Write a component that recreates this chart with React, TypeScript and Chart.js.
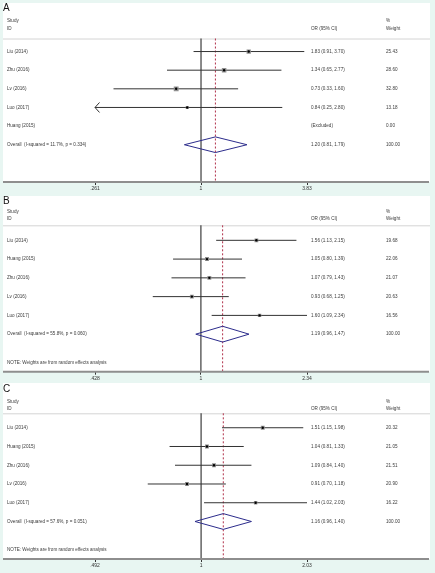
import React, { useEffect, useRef } from 'react';
import { Chart, registerables } from 'chart.js';

Chart.register(...registerables);

// ---- Panel A (fixed effects) ----
const studiesA = ['Liu (2014)', 'Zhu (2016)', 'Lv (2016)', 'Luo (2017)', 'Huang (2015)'];
const orA: (number | null)[] = [1.83, 1.34, 0.73, 0.84, null];
const lowerA: (number | null)[] = [0.91, 0.65, 0.33, 0.25, null];
const upperA: (number | null)[] = [3.7, 2.77, 1.6, 2.8, null];
const weightsA = [25.43, 28.6, 32.8, 13.18, 0];
const overallA = [1.2, 0.81, 1.79];
const hetA = ['11.7%', '0.334'];
const ticksA = [0.261, 1, 3.83];
const tickLabelsA = ['.261', '1', '3.83'];

// ---- Panel B (random effects) ----
const studiesB = ['Liu (2014)', 'Huang (2015)', 'Zhu (2016)', 'Lv (2016)', 'Luo (2017)'];
const orB: (number | null)[] = [1.56, 1.05, 1.07, 0.93, 1.6];
const lowerB: (number | null)[] = [1.13, 0.8, 0.79, 0.68, 1.09];
const upperB: (number | null)[] = [2.15, 1.39, 1.43, 1.25, 2.34];
const weightsB = [19.68, 22.06, 21.07, 20.63, 16.56];
const overallB = [1.19, 0.96, 1.47];
const hetB = ['55.8%', '0.060'];
const ticksB = [0.428, 1, 2.34];
const tickLabelsB = ['.428', '1', '2.34'];

// ---- Panel C (random effects) ----
const studiesC = ['Liu (2014)', 'Huang (2015)', 'Zhu (2016)', 'Lv (2016)', 'Luo (2017)'];
const orC: (number | null)[] = [1.51, 1.04, 1.09, 0.91, 1.44];
const lowerC: (number | null)[] = [1.15, 0.81, 0.84, 0.7, 1.02];
const upperC: (number | null)[] = [1.98, 1.33, 1.4, 1.18, 2.03];
const weightsC = [20.32, 21.05, 21.51, 20.9, 16.22];
const overallC = [1.16, 0.96, 1.4];
const hetC = ['57.6%', '0.051'];
const ticksC = [0.492, 1, 2.03];
const tickLabelsC = ['.492', '1', '2.03'];

const NOTE = 'NOTE: Weights are from random effects analysis';
const FONT = '"Liberation Sans", Arial, Helvetica, sans-serif';
const MINT = '#e8f6f2';
const W = 435;
const TEXT_SIZE = 4.6;

type PanelDef = {
  letter: string;
  studies: string[];
  or: (number | null)[];
  lower: (number | null)[];
  upper: (number | null)[];
  weights: number[];
  overall: number[];
  het: string[];
  ticks: number[];
  tickLabels: string[];
  note: boolean;
  height: number;
  whiteTop: number;
  letterY: number;
  studyY: number;
  idY: number;
  sepY: number;
  axisY: number;
  yMin: number;
};

const panels: PanelDef[] = [
  {
    letter: 'A', studies: studiesA, or: orA, lower: lowerA, upper: upperA, weights: weightsA,
    overall: overallA, het: hetA, ticks: ticksA, tickLabels: tickLabelsA, note: false,
    height: 196, whiteTop: 3, letterY: 8, studyY: 20.5, idY: 29, sepY: 38.5, axisY: 182, yMin: -0.7,
  },
  {
    letter: 'B', studies: studiesB, or: orB, lower: lowerB, upper: upperB, weights: weightsB,
    overall: overallB, het: hetB, ticks: ticksB, tickLabels: tickLabelsB, note: true,
    height: 187, whiteTop: 0, letterY: 5, studyY: 16, idY: 23, sepY: 29.3, axisY: 175.7, yMin: -0.8,
  },
  {
    letter: 'C', studies: studiesC, or: orC, lower: lowerC, upper: upperC, weights: weightsC,
    overall: overallC, het: hetC, ticks: ticksC, tickLabels: tickLabelsC, note: true,
    height: 190, whiteTop: 0, letterY: 6, studyY: 19, idY: 25.3, sepY: 30.3, axisY: 176, yMin: -0.77,
  },
];

const fmtCI = (o: number, l: number, u: number) =>
  `${o.toFixed(2)} (${l.toFixed(2)}, ${u.toFixed(2)})`;

// square side grows with the study weight
const boxRadius = (w: number) => (0.85 * Math.sqrt(w)) / Math.SQRT2;

function ForestPanel({ p }: { p: PanelDef }) {
  const ref = useRef<HTMLCanvasElement>(null);

  useEffect(() => {
    const canvas = ref.current;
    if (!canvas) return;
    const n = p.studies.length;
    const points = p.or
      .map((o, i) => (o == null ? null : { x: o, y: i, w: p.weights[i] }))
      .filter((d): d is { x: number; y: number; w: number } => d != null);

    const forest = {
      id: 'forest',
      beforeDraw(chart: any) {
        const { ctx } = chart;
        ctx.save();
        ctx.fillStyle = MINT;
        ctx.fillRect(0, 0, chart.width, chart.height);
        ctx.fillStyle = '#ffffff';
        ctx.fillRect(3, p.whiteTop, 427, chart.chartArea.bottom - p.whiteTop);
        ctx.restore();
      },
      beforeDatasetsDraw(chart: any) {
        const { ctx, chartArea: a } = chart;
        const x = chart.scales.x;
        const y = chart.scales.y;
        ctx.save();
        // header separator
        ctx.strokeStyle = '#d4d4d4';
        ctx.lineWidth = 1;
        ctx.beginPath();
        ctx.moveTo(3, a.top + 0.5);
        ctx.lineTo(430, a.top + 0.5);
        ctx.stroke();
        // line of no effect
        const x1 = x.getPixelForValue(1);
        ctx.strokeStyle = '#3c3c3c';
        ctx.lineWidth = 1.2;
        ctx.beginPath();
        ctx.moveTo(x1, a.top);
        ctx.lineTo(x1, a.bottom);
        ctx.stroke();
        // pooled estimate
        const xo = x.getPixelForValue(p.overall[0]);
        ctx.strokeStyle = '#b0304a';
        ctx.lineWidth = 1;
        ctx.setLineDash([2, 2]);
        ctx.beginPath();
        ctx.moveTo(xo, a.top);
        ctx.lineTo(xo, a.bottom);
        ctx.stroke();
        ctx.setLineDash([]);
        // confidence intervals
        ctx.strokeStyle = '#333333';
        ctx.lineWidth = 1;
        for (let i = 0; i < n; i++) {
          const lo = p.lower[i];
          const hi = p.upper[i];
          if (lo == null || hi == null) continue;
          const yy = y.getPixelForValue(i);
          const xl = Math.max(x.getPixelForValue(lo), a.left);
          const xr = Math.min(x.getPixelForValue(hi), a.right);
          ctx.beginPath();
          ctx.moveTo(xl, yy);
          ctx.lineTo(xr, yy);
          ctx.stroke();
          if (lo < x.min) {
            ctx.beginPath();
            ctx.moveTo(xl + 4.5, yy - 5);
            ctx.lineTo(xl, yy);
            ctx.lineTo(xl + 4.5, yy + 5);
            ctx.stroke();
          }
          if (hi > x.max) {
            ctx.beginPath();
            ctx.moveTo(xr - 4.5, yy - 5);
            ctx.lineTo(xr, yy);
            ctx.lineTo(xr - 4.5, yy + 5);
            ctx.stroke();
          }
        }
        // pooled diamond
        const yd = y.getPixelForValue(n);
        const h = Math.abs(y.getPixelForValue(n + 0.42) - yd);
        ctx.strokeStyle = '#2c2c8c';
        ctx.lineWidth = 1;
        ctx.beginPath();
        ctx.moveTo(x.getPixelForValue(p.overall[1]), yd);
        ctx.lineTo(xo, yd - h);
        ctx.lineTo(x.getPixelForValue(p.overall[2]), yd);
        ctx.lineTo(xo, yd + h);
        ctx.closePath();
        ctx.stroke();
        // axis line across the plot region
        ctx.strokeStyle = '#8e8e8e';
        ctx.lineWidth = 2;
        ctx.beginPath();
        ctx.moveTo(3, a.bottom);
        ctx.lineTo(429, a.bottom);
        ctx.stroke();
        ctx.restore();
      },
      afterDraw(chart: any) {
        const { ctx } = chart;
        const y = chart.scales.y;
        ctx.save();
        ctx.textBaseline = 'middle';
        ctx.textAlign = 'left';
        ctx.fillStyle = '#111';
        ctx.font = `10px ${FONT}`;
        ctx.fillText(p.letter, 3, p.letterY);
        ctx.fillStyle = '#3a3a3a';
        ctx.font = `${TEXT_SIZE}px ${FONT}`;
        const colName = 7;
        const colCI = 311;
        const colW = 386;
        ctx.fillText('Study', colName, p.studyY);
        ctx.fillText('ID', colName, p.idY);
        ctx.fillText('OR (95% CI)', colCI, p.idY);
        ctx.fillText('%', colW, p.studyY);
        ctx.fillText('Weight', colW, p.idY);
        for (let i = 0; i < n; i++) {
          const yy = y.getPixelForValue(i);
          ctx.fillText(p.studies[i], colName, yy);
          const o = p.or[i];
          const lo = p.lower[i];
          const hi = p.upper[i];
          ctx.fillText(o == null || lo == null || hi == null ? '(Excluded)' : fmtCI(o, lo, hi), colCI, yy);
          ctx.fillText(p.weights[i].toFixed(2), colW, yy);
        }
        const yo = y.getPixelForValue(n);
        ctx.fillText(`Overall  (I-squared = ${p.het[0]}, p = ${p.het[1]})`, colName, yo);
        ctx.fillText(fmtCI(p.overall[0], p.overall[1], p.overall[2]), colCI, yo);
        ctx.fillText('100.00', colW, yo);
        if (p.note) ctx.fillText(NOTE, colName, y.getPixelForValue(n + 1.5));
        ctx.restore();
      },
    };

    const chart = new Chart(canvas, {
      type: 'scatter',
      data: {
        datasets: [
          {
            // weight boxes
            data: points as any,
            order: 2,
            pointStyle: 'rect',
            pointRadius: (ctx: any) => boxRadius(ctx.raw ? ctx.raw.w : 0),
            backgroundColor: '#8f8f8f',
            borderWidth: 0,
          },
          {
            // point estimates
            data: points as any,
            order: 1,
            pointStyle: 'circle',
            pointRadius: 1.2,
            backgroundColor: '#000',
            borderWidth: 0,
          },
        ],
      },
      options: {
        animation: false,
        responsive: false,
        events: [],
        layout: {
          padding: { left: 95, right: 128, top: p.sepY, bottom: p.height - p.axisY - 11 },
        },
        plugins: { legend: { display: false }, tooltip: { enabled: false } },
        scales: {
          x: {
            type: 'logarithmic',
            min: p.ticks[0],
            max: p.ticks[p.ticks.length - 1],
            afterBuildTicks: (axis: any) => {
              axis.ticks = p.ticks.map((v) => ({ value: v }));
            },
            ticks: {
              callback: (_v: any, i: number) => p.tickLabels[i],
              font: { size: 5, family: FONT },
              color: '#333',
              padding: 1,
              maxRotation: 0,
              autoSkip: false,
            },
            grid: { drawOnChartArea: false, drawTicks: true, tickLength: 3, color: '#333', lineWidth: 1 },
            border: { display: false },
          },
          y: { type: 'linear', display: false, min: p.yMin, max: 7, reverse: true },
        },
      },
      plugins: [forest],
    } as any);

    return () => chart.destroy();
  }, [p]);

  return <canvas ref={ref} width={W} height={p.height} style={{ display: 'block' }} />;
}

export default function App() {
  return (
    <div style={{ position: 'absolute', left: 0, top: 0, width: W, background: MINT }}>
      {panels.map((p) => (
        <ForestPanel key={p.letter} p={p} />
      ))}
    </div>
  );
}
